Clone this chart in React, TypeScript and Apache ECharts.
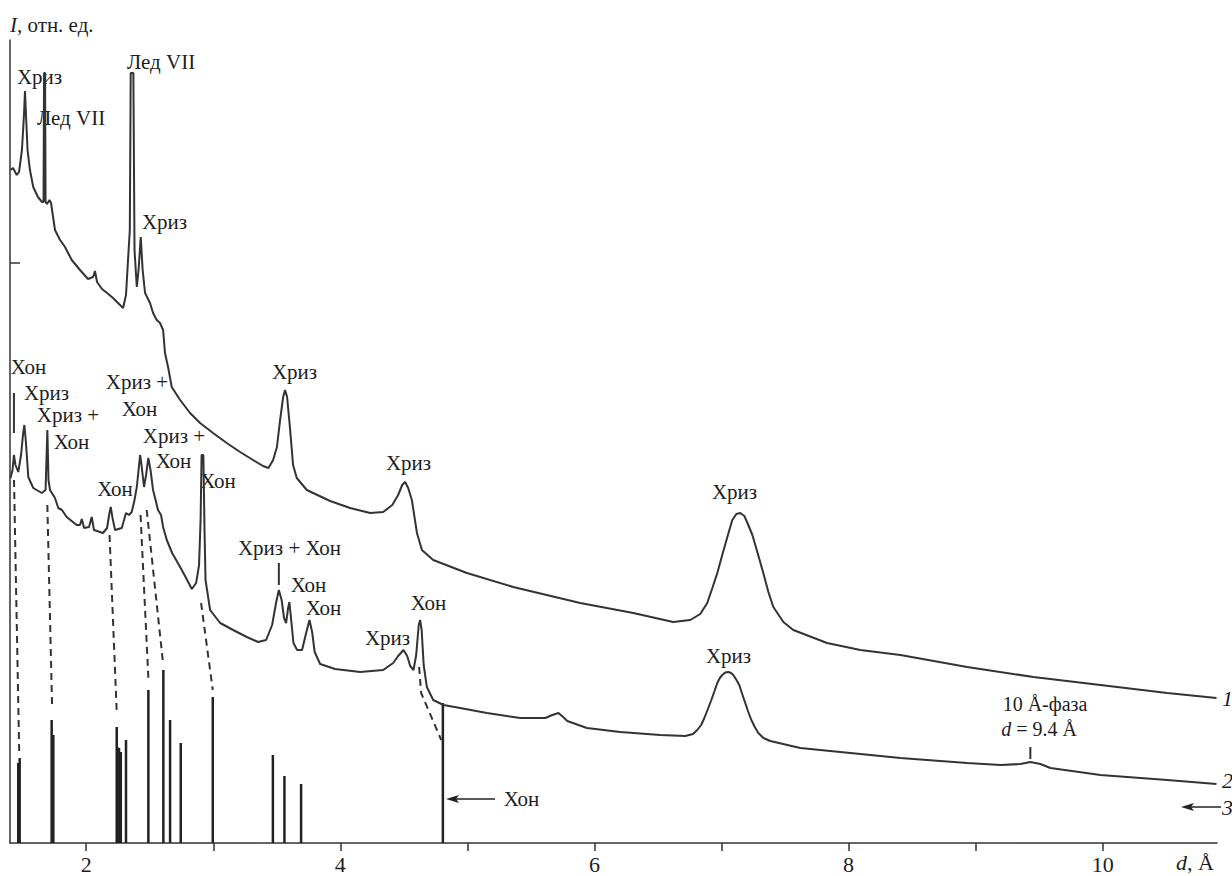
import React, { useEffect, useRef } from 'react';
import * as echarts from 'echarts';

// d, Å  vs  I (relative units)
const curve1: number[][] = [
  [1.404,673],[1.424,675],[1.453,668],[1.471,671],[1.494,693],[1.510,728],[1.518,752],[1.526,728],[1.538,693],[1.557,673],
  [1.583,656],[1.620,646],[1.652,641],[1.664,641],[1.668,770],[1.676,770],[1.680,641],[1.691,639],[1.711,643],[1.723,640],
  [1.754,613],[1.794,603],[1.833,596],[1.886,583],[1.951,573],[2.014,564],[2.054,566],[2.069,572],[2.085,561],[2.124,554],
  [2.164,550],[2.211,545],[2.250,540],[2.290,535],[2.313,548],[2.329,583],[2.343,613],[2.350,770],[2.371,770],[2.380,593],
  [2.398,556],[2.412,573],[2.429,606],[2.444,573],[2.463,550],[2.502,540],[2.526,530],[2.555,523],[2.581,520],[2.605,513],
  [2.620,490],[2.644,476],[2.673,456],[2.739,443],[2.817,430],[2.896,420],[2.998,410],[3.106,400],[3.211,391],[3.313,383],
  [3.392,377],[3.434,375],[3.471,383],[3.501,396],[3.526,423],[3.550,446],[3.565,453],[3.581,446],[3.605,413],[3.628,378],
  [3.657,365],[3.736,353],[3.920,342],[4.077,335],[4.235,330],[4.337,331],[4.409,338],[4.455,348],[4.487,358],[4.510,361],
  [4.534,355],[4.563,343],[4.603,310],[4.642,293],[4.731,283],[4.996,270],[5.361,256],[5.888,240],[6.306,230],[6.620,221],
  [6.754,223],[6.833,229],[6.888,240],[6.928,255],[6.967,270],[7.006,288],[7.046,306],[7.085,323],[7.117,329],[7.148,330],
  [7.180,327],[7.211,318],[7.243,308],[7.282,291],[7.329,270],[7.369,251],[7.408,236],[7.487,221],[7.565,213],[7.831,200],
  [8.093,193],[8.408,188],[8.933,176],[9.455,166],[9.983,158],[10.508,150],[10.896,145]
];

const curve2: number[][] = [
  [1.404,365],[1.420,373],[1.431,388],[1.443,378],[1.465,371],[1.487,388],[1.502,408],[1.513,418],[1.524,403],[1.544,366],
  [1.583,355],[1.650,350],[1.680,353],[1.694,413],[1.703,363],[1.715,353],[1.754,345],[1.780,335],[1.809,333],[1.846,326],
  [1.925,318],[1.951,318],[1.965,324],[1.983,315],[2.022,316],[2.043,326],[2.061,313],[2.132,310],[2.164,315],[2.180,328],
  [2.193,336],[2.207,325],[2.227,313],[2.280,315],[2.313,330],[2.337,328],[2.358,331],[2.380,343],[2.398,356],[2.412,373],
  [2.424,388],[2.435,378],[2.455,356],[2.471,368],[2.489,385],[2.506,373],[2.526,353],[2.565,333],[2.589,328],[2.605,316],
  [2.634,303],[2.676,290],[2.739,276],[2.786,265],[2.831,254],[2.865,260],[2.888,278],[2.900,323],[2.908,388],[2.922,388],
  [2.931,313],[2.939,263],[2.975,233],[3.054,220],[3.156,213],[3.264,206],[3.353,201],[3.416,203],[3.463,218],[3.494,240],
  [3.516,253],[3.538,243],[3.557,225],[3.573,220],[3.589,235],[3.599,241],[3.613,223],[3.631,200],[3.660,193],[3.699,193],
  [3.727,208],[3.757,223],[3.778,211],[3.798,191],[3.841,179],[3.959,174],[4.156,171],[4.337,173],[4.416,180],[4.455,187],
  [4.497,193],[4.526,187],[4.550,177],[4.576,173],[4.597,188],[4.617,218],[4.628,223],[4.640,213],[4.656,178],[4.681,156],
  [4.731,143],[4.812,138],[4.943,135],[5.154,130],[5.416,125],[5.613,125],[5.669,128],[5.717,130],[5.754,126],[5.786,122],
  [5.941,115],[6.203,111],[6.518,108],[6.715,107],[6.776,109],[6.809,113],[6.840,118],[6.865,125],[6.893,134],[6.920,143],
  [6.945,152],[6.967,160],[6.987,165],[7.006,168],[7.030,170.5],[7.054,171],[7.075,170],[7.093,168],[7.118,163],[7.140,158],
  [7.163,149],[7.187,140],[7.211,131],[7.235,123],[7.262,116],[7.290,110],[7.330,105],[7.384,102],[7.620,95],[8.014,90],
  [8.408,85],[8.933,80],[9.198,78],[9.353,79],[9.431,81],[9.510,79],[9.589,75],[9.983,68],[10.508,63],[10.896,59]
];

// reference pattern 3 (stick diagram)
const sticks: number[][] = [
  [1.465,80],[1.476,85],[1.728,123],[1.741,108],[2.240,116],[2.245,96],[2.258,95],[2.272,91],[2.313,103],
  [2.489,153],[2.607,173],[2.660,123],[2.744,100],[2.996,146],[3.469,88],[3.560,67],[3.691,59],[4.807,140]
];

// dashed correspondences between pattern 2 and pattern 3
const dashLinks: number[][][] = [
  [[1.4315,363],[1.473,88]],
  [[1.694,338],[1.731,138]],
  [[2.1835,308],[2.240,131]],
  [[2.4276,328],[2.489,165]],
  [[2.476,333],[2.602,183]],
  [[2.904,240],[2.996,153]],
  [[4.620,176],[4.636,150],[4.794,103]]
];

// short vertical reflex markers
const markers: number[][][] = [
  [[1.431,410],[1.431,450]],
  [[3.516,258],[3.516,280]],
  [[9.431,84],[9.431,96]]
];

const xTicks = [2, 3, 4, 5, 6, 7, 8, 9, 10];
const xLabels = [2, 4, 6, 8, 10];
const yTicks = [580];

const FONT = 'Liberation Serif';
const INK = '#333';
const TXT = '#1e1e1e';

const lbl = (text: string, x: number, y: number, size = 21, align = 'center') => ({
  type: 'text',
  x, y,
  silent: true,
  style: {
    text,
    fontFamily: FONT,
    fontSize: size,
    fill: TXT,
    align,
    verticalAlign: 'middle',
    rich: {
      i: { fontStyle: 'italic', fontFamily: FONT, fontSize: size, fill: TXT },
      n: { fontFamily: FONT, fontSize: size, fill: TXT }
    }
  }
});

export default function App() {
  const ref = useRef<HTMLDivElement>(null);
  useEffect(() => {
    const chart = echarts.init(ref.current!, null, { renderer: 'svg' });
    const lineBase = { type: 'line', showSymbol: false, symbol: 'none', silent: true, animation: false };
    const series: any[] = [
      { ...lineBase, name: '1', data: curve1, z: 3, lineStyle: { color: INK, width: 2 } },
      { ...lineBase, name: '2', data: curve2, z: 3, lineStyle: { color: INK, width: 2 } },
      { type: 'bar', name: '3', data: sticks, barWidth: 2.5, silent: true, itemStyle: { color: '#222' }, z: 2 },
      ...dashLinks.map((seg) => ({ ...lineBase, data: seg, z: 2, lineStyle: { color: INK, width: 2, type: [7, 5] } })),
      ...markers.map((seg) => ({ ...lineBase, data: seg, z: 2, lineStyle: { color: INK, width: 2 } }))
    ];
    const arrowY1 = 799;
    const arrowY2 = 807;
    const option: any = {
      animation: false,
      backgroundColor: '#fff',
      textStyle: { fontFamily: FONT },
      grid: { left: 10, right: 15, top: 40, bottom: 33, containLabel: false },
      xAxis: {
        type: 'value', min: 1.4, max: 10.9,
        axisLine: { show: true, lineStyle: { color: INK, width: 1.5 } },
        axisTick: { show: true, customValues: xTicks, length: 8, lineStyle: { color: INK, width: 1.5 } },
        axisLabel: { customValues: xLabels, fontFamily: FONT, fontSize: 22, color: TXT, margin: 10 },
        splitLine: { show: false }
      },
      yAxis: {
        type: 'value', min: 0, max: 803,
        axisLine: { show: true, lineStyle: { color: INK, width: 1.5 } },
        axisTick: { show: true, inside: true, customValues: yTicks, length: 10, lineStyle: { color: INK, width: 1.5 } },
        axisLabel: { show: false },
        splitLine: { show: false }
      },
      series,
      graphic: [
        lbl('{i|I}{n|, отн. ед.}', 10, 25, 21, 'left'),
        lbl('{i|d}{n|, Å}', 1195, 862, 22),
        lbl('Хриз', 39.5, 77),
        lbl('Лед VII', 71, 118),
        lbl('Лед VII', 161, 62),
        lbl('Хриз', 164.5, 222),
        lbl('Хон', 28.5, 367),
        lbl('Хриз', 46.5, 393),
        lbl('Хриз +', 68, 415),
        lbl('Хон', 71.5, 442),
        lbl('Хриз +', 137, 382),
        lbl('Хон', 139.5, 409),
        lbl('Хриз +', 174, 436),
        lbl('Хон', 173.5, 461),
        lbl('Хон', 115, 489),
        lbl('Хон', 218, 481),
        lbl('Хриз', 294.5, 372),
        lbl('Хриз + Хон', 289.5, 548),
        lbl('Хон', 308.5, 585),
        lbl('Хон', 323.5, 608),
        lbl('Хриз', 408.5, 463),
        lbl('Хон', 428.5, 603),
        lbl('Хриз', 387.5, 638),
        lbl('Хриз', 734.5, 492),
        lbl('Хриз', 728.5, 656),
        lbl('10 Å-фаза', 1045, 704, 20),
        lbl('{i|d}{n| = 9.4 Å}', 1039, 729, 20),
        lbl('Хон', 521.5, 799),
        lbl('{i|1}', 1222, 698, 22, 'left'),
        lbl('{i|2}', 1222, 780, 22, 'left'),
        lbl('{i|3}', 1222, 807, 22, 'left'),
        { type: 'line', silent: true, shape: { x1: 452, y1: arrowY1, x2: 495, y2: arrowY1 }, style: { stroke: '#222', lineWidth: 1.5 } },
        { type: 'polygon', silent: true, shape: { points: [[446, arrowY1], [459, arrowY1 - 4], [456, arrowY1], [459, arrowY1 + 4]] }, style: { fill: '#222' } },
        { type: 'line', silent: true, shape: { x1: 1187, y1: arrowY2, x2: 1221, y2: arrowY2 }, style: { stroke: '#222', lineWidth: 1.5 } },
        { type: 'polygon', silent: true, shape: { points: [[1181, arrowY2], [1194, arrowY2 - 4], [1191, arrowY2], [1194, arrowY2 + 4]] }, style: { fill: '#222' } }
      ]
    };
    chart.setOption(option);
    return () => chart.dispose();
  }, []);
  return (
    <div ref={ref} style={{ position: 'fixed', left: 0, top: 0, width: 1232, height: 876, background: '#fff' }} />
  );
}
